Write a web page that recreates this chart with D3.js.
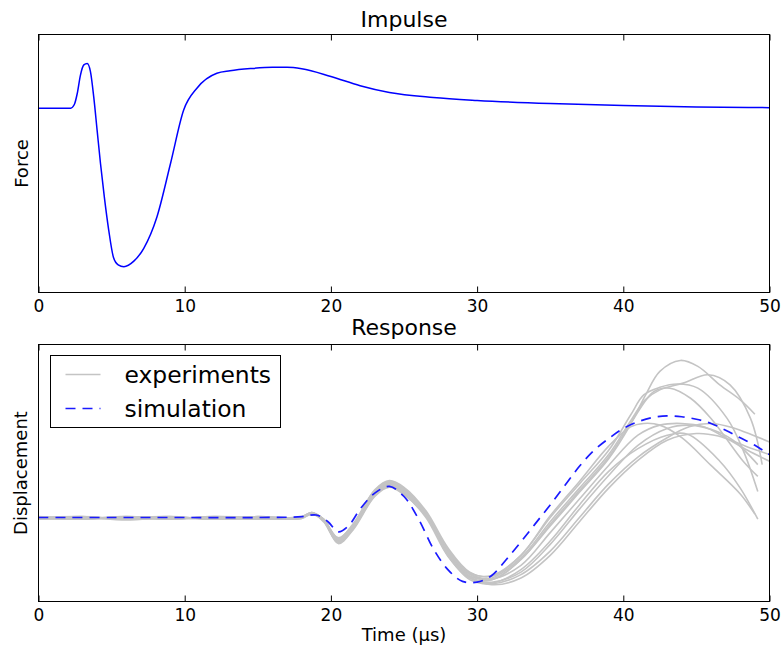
<!DOCTYPE html>
<html>
<head>
<meta charset="utf-8">
<script src="https://cdn.jsdelivr.net/npm/d3@7"></script>
<style>
  body { margin: 0; background: #fff; }
  text { font-family: "DejaVu Sans", sans-serif; }
</style>
</head>
<body>
<svg id="chart" width="782" height="647"></svg>
<script>
// Impulse (top panel)
const impulseTime = [0, 2.2, 2.45, 2.65, 2.87, 3.1, 3.33, 3.55, 3.78, 4.01, 4.24, 4.5, 4.8, 5.13, 5.45, 5.84, 6.52, 7.2, 8.1, 9.03, 9.93, 10.85, 12.2, 13.1, 14.5, 16, 17, 18, 20, 22, 24, 27, 30, 35, 40, 45, 50];
const impulseForce = [0, 0, 0.02, 0.08, 0.18, 0.235, 0.243, 0.20, 0.06, -0.12, -0.30, -0.48, -0.66, -0.81, -0.85, -0.86, -0.83, -0.76, -0.59, -0.30, -0.01, 0.11, 0.19, 0.203, 0.215, 0.222, 0.222, 0.214, 0.172, 0.122, 0.085, 0.058, 0.042, 0.025, 0.015, 0.007, 0.003];

// Simulation (bottom panel, dashed)
const simTime = [0, 5, 10, 15, 18, 19, 19.8, 20.5, 21.2, 22, 23, 24, 25, 26, 27, 28, 29, 30, 31, 32, 33, 34, 35, 36, 37, 38, 39, 40, 41, 42, 43, 44, 45, 46, 47, 48, 49, 50];
const simDisp = [0, 0, 0, 0, 0.01, 0.03, -0.05, -0.17, -0.10, 0.10, 0.29, 0.37, 0.25, -0.02, -0.37, -0.62, -0.76, -0.77, -0.69, -0.50, -0.29, -0.07, 0.15, 0.38, 0.61, 0.80, 0.94, 1.06, 1.14, 1.19, 1.21, 1.20, 1.17, 1.12, 1.04, 0.95, 0.86, 0.75];

// Experiments: shared knot times up to t=37, then own tails
const expTimes = [0, 3, 6, 9, 12, 15, 18, 18.7, 19.5, 20.5, 21.5, 23, 24, 25, 26.5, 28, 29.5, 31, 33, 35, 37];
const expHeads = [
  [-0.01, 0.01, -0.02, 0.0, -0.01, 0.01, 0.0, 0.05, -0.02, -0.26, -0.10, 0.30, 0.42, 0.33, 0.05, -0.40, -0.68, -0.74, -0.50, -0.10, 0.30],
  [0.0, -0.02, 0.01, -0.01, 0.0, -0.02, 0.01, 0.06, -0.04, -0.29, -0.12, 0.28, 0.40, 0.30, 0.02, -0.44, -0.70, -0.72, -0.48, -0.05, 0.35],
  [-0.02, 0.0, -0.01, 0.01, -0.02, 0.0, 0.0, 0.04, -0.03, -0.24, -0.09, 0.33, 0.44, 0.36, 0.08, -0.36, -0.65, -0.70, -0.45, 0.0, 0.40],
  [0.01, -0.01, 0.0, -0.02, 0.01, -0.01, -0.01, 0.05, -0.05, -0.30, -0.14, 0.27, 0.38, 0.28, 0.0, -0.46, -0.72, -0.74, -0.50, -0.08, 0.32],
  [-0.01, 0.0, -0.03, 0.0, -0.01, 0.0, 0.01, 0.06, -0.02, -0.25, -0.08, 0.32, 0.43, 0.35, 0.06, -0.38, -0.66, -0.69, -0.45, 0.02, 0.43],
  [0.0, -0.01, 0.01, -0.02, 0.0, -0.01, 0.0, 0.04, -0.04, -0.28, -0.13, 0.26, 0.37, 0.29, 0.03, -0.42, -0.71, -0.78, -0.62, -0.28, 0.15],
  [-0.01, -0.02, 0.0, 0.01, -0.02, -0.01, 0.01, 0.05, -0.03, -0.31, -0.15, 0.25, 0.36, 0.27, 0.02, -0.45, -0.74, -0.79, -0.68, -0.40, 0.0],
  [0.0, 0.01, -0.02, -0.01, 0.0, -0.02, 0.0, 0.05, -0.02, -0.27, -0.11, 0.29, 0.41, 0.32, 0.04, -0.41, -0.70, -0.80, -0.72, -0.45, -0.05],
  [-0.02, -0.01, 0.0, -0.01, 0.01, 0.0, -0.01, 0.04, -0.04, -0.29, -0.12, 0.28, 0.39, 0.31, 0.03, -0.43, -0.72, -0.77, -0.65, -0.32, 0.10],
  [0.0, -0.01, -0.01, 0.0, -0.02, 0.01, 0.0, 0.06, -0.03, -0.26, -0.10, 0.31, 0.42, 0.34, 0.06, -0.39, -0.67, -0.73, -0.57, -0.18, 0.22]
];
const expTails = [
  [[39, 0.70], [40.5, 1.11], [41.5, 1.45], [42.5, 1.74], [43.9, 1.87], [45.1, 1.80], [46.6, 1.58], [48, 1.40], [49, 1.23]],
  [[39, 0.75], [40.5, 1.15], [41.5, 1.40], [42.5, 1.52], [44.1, 1.60], [45.8, 1.70], [47.3, 1.58], [48.7, 1.18], [49.5, 0.63]],
  [[39, 0.80], [40.5, 1.22], [41.4, 1.46], [42.5, 1.55], [43.7, 1.59], [45.1, 1.54], [47.1, 1.18], [48.2, 0.80], [49.2, 0.31]],
  [[39, 0.72], [40.5, 1.12], [42.1, 1.50], [43.2, 1.54], [44.6, 1.42], [46, 1.18], [48.2, 0.67], [49.2, 0.49]],
  [[39, 0.85], [40.5, 1.08], [41.4, 1.12], [42.5, 1.10], [44, 0.95], [46, 0.62], [48, 0.28], [49, 0.04]],
  [[39, 0.55], [41, 0.82], [43, 0.98], [44.4, 0.99], [46.6, 0.67], [48, 0.35], [49.2, -0.02]],
  [[39, 0.40], [41, 0.72], [43, 0.95], [44.5, 1.08], [46, 1.12], [47.5, 1.07], [49, 0.97], [50, 0.90]],
  [[39, 0.35], [41, 0.68], [43, 0.92], [45, 1.00], [46.5, 0.97], [48.5, 0.84], [50, 0.75]],
  [[39, 0.50], [41, 0.86], [43, 1.06], [44.5, 1.10], [46, 1.05], [47.5, 0.92], [49.2, 0.63]],
  [[39, 0.62], [41, 0.98], [42.5, 1.10], [44, 1.12], [45.5, 1.08], [47, 0.95], [48.5, 0.80], [50, 0.67]]
];

const xTicks = [0, 10, 20, 30, 40, 50];

const svg = d3.select('#chart');
const left = 38.5, right = 769.5;
const topPanel = { y0: 34.5, y1: 292.5 };
const botPanel = { y0: 344.5, y1: 601.5 };

const x = d3.scaleLinear().domain([0, 50]).range([left, right]);
const yForce = d3.scaleLinear().domain([-1, 0.4]).range([topPanel.y1, topPanel.y0]);
const yDisp = d3.scaleLinear().domain([-1, 2.06]).range([botPanel.y1, botPanel.y0]);

function drawFrame(p) {
    // ticks on bottom (with labels) and on top (no labels), pointing inward
    svg.append('g')
       .attr('transform', `translate(0,${p.y1})`)
       .call(d3.axisBottom(x).tickValues(xTicks).tickSizeInner(-6).tickSizeOuter(0).tickPadding(7))
       .call(g => g.select('.domain').remove())
       .call(g => g.selectAll('text').attr('font-size', 17).attr('font-family', 'DejaVu Sans').attr('fill', '#000'));
    svg.append('g')
       .attr('transform', `translate(0,${p.y0})`)
       .call(d3.axisTop(x).tickValues(xTicks).tickSizeInner(-6).tickSizeOuter(0).tickFormat(''))
       .call(g => g.select('.domain').remove());
    svg.append('rect')
       .attr('x', left).attr('y', p.y0)
       .attr('width', right - left).attr('height', p.y1 - p.y0)
       .attr('fill', 'none').attr('stroke', '#000').attr('stroke-width', 1);
}

svg.append('defs').append('clipPath').attr('id', 'clip-bot')
   .append('rect').attr('x', left).attr('y', botPanel.y0).attr('width', right - left).attr('height', botPanel.y1 - botPanel.y0);

// Top panel
const lineImpulse = d3.line()
    .x((d, i) => x(impulseTime[i]))
    .y(d => yForce(d))
    .curve(d3.curveMonotoneX);

svg.append('path')
   .datum(impulseForce)
   .attr('fill', 'none')
   .attr('stroke', '#0000ff')
   .attr('stroke-width', 1.5)
   .attr('d', lineImpulse);

drawFrame(topPanel);

svg.append('text').attr('x', (left + right) / 2).attr('y', 27)
   .attr('text-anchor', 'middle').attr('font-size', 22).text('Impulse');
svg.append('text').attr('transform', `translate(28,${(topPanel.y0 + topPanel.y1) / 2}) rotate(-90)`)
   .attr('text-anchor', 'middle').attr('font-size', 18).text('Force');

// Bottom panel
const lineDisp = d3.line()
    .x(d => x(d[0]))
    .y(d => yDisp(d[1]))
    .curve(d3.curveCatmullRom.alpha(0.5));

const plot = svg.append('g').attr('clip-path', 'url(#clip-bot)');

expHeads.forEach((head, k) => {
    const pts = expTimes.map((t, i) => [t, head[i]]).concat(expTails[k]);
    plot.append('path')
        .datum(pts)
        .attr('fill', 'none')
        .attr('stroke', '#c4c4c4')
        .attr('stroke-width', 1.6)
        .attr('d', lineDisp);
});

plot.append('path')
    .datum(simTime.map((t, i) => [t, simDisp[i]]))
    .attr('fill', 'none')
    .attr('stroke', '#1a1aff')
    .attr('stroke-width', 1.7)
    .attr('stroke-dasharray', '10,7')
    .attr('d', lineDisp);

drawFrame(botPanel);

svg.append('text').attr('x', (left + right) / 2).attr('y', 335)
   .attr('text-anchor', 'middle').attr('font-size', 22).text('Response');
svg.append('text').attr('transform', `translate(27,${(botPanel.y0 + botPanel.y1) / 2}) rotate(-90)`)
   .attr('text-anchor', 'middle').attr('font-size', 18).text('Displacement');
svg.append('text').attr('x', (left + right) / 2).attr('y', 641)
   .attr('text-anchor', 'middle').attr('font-size', 18).text('Time (µs)');

// Legend
const legend = svg.append('g').attr('transform', 'translate(50.5,355.5)');
legend.append('rect')
      .attr('width', 230).attr('height', 72)
      .attr('fill', '#fff').attr('stroke', '#000').attr('stroke-width', 1);
const legendItems = [
    { label: 'experiments', color: '#c4c4c4', dash: null },
    { label: 'simulation', color: '#1a1aff', dash: '10,7' }
];
legendItems.forEach((item, i) => {
    const yy = 19 + i * 34;
    legend.append('line')
          .attr('x1', 15).attr('x2', 50).attr('y1', yy).attr('y2', yy)
          .attr('stroke', item.color).attr('stroke-width', item.dash ? 1.7 : 1.6)
          .attr('stroke-dasharray', item.dash);
    legend.append('text')
          .attr('x', 74).attr('y', yy).attr('dy', '0.35em')
          .attr('font-size', 23.4).text(item.label);
});
</script>
</body>
</html>
